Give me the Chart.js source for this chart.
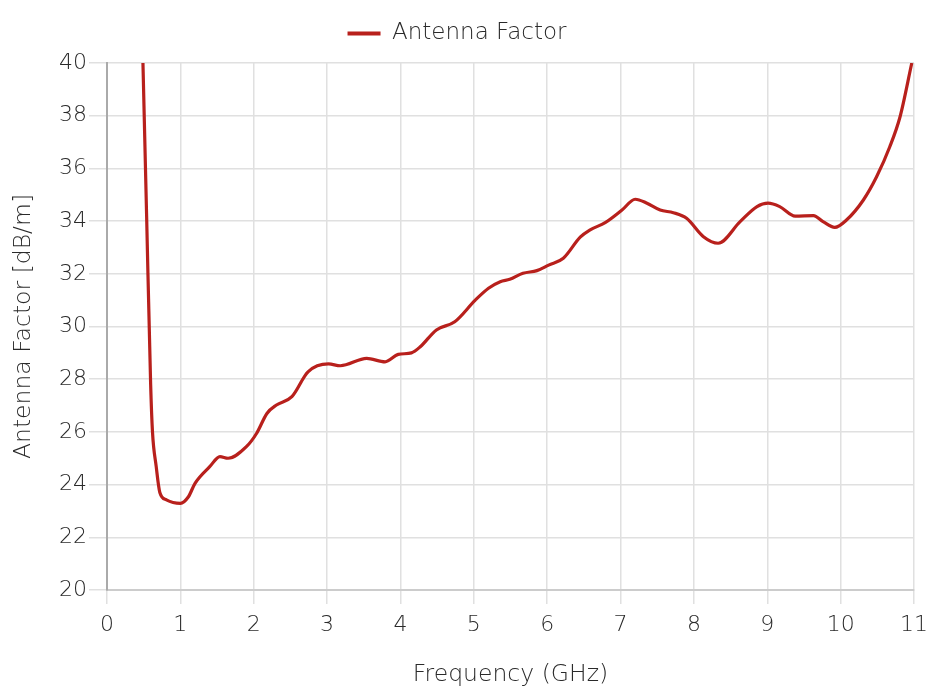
<!DOCTYPE html>
<html>
<head>
<meta charset="utf-8">
<script src="https://cdn.jsdelivr.net/npm/chart.js@4/dist/chart.umd.min.js"></script>
<style>
html,body{margin:0;padding:0;background:#fff;}
#wrap{width:930px;height:696px;}
</style>
</head>
<body>
<div id="wrap"><canvas id="c" width="930" height="696"></canvas></div>
<script>
const frequencyGHz = [0.49,0.54,0.595,0.62,0.67,0.72,0.81,1.0,1.11,1.2,1.4,1.54,1.65,1.9,2.04,2.18,2.31,2.52,2.74,3.02,3.18,3.54,3.79,3.97,4.15,4.27,4.49,4.74,5.02,5.2,5.36,5.49,5.67,5.86,6.02,6.22,6.45,6.58,6.79,7.02,7.2,7.36,7.54,7.72,7.9,8.13,8.33,8.63,8.86,9.01,9.17,9.38,9.63,9.76,9.92,10.08,10.31,10.49,10.67,10.81,10.97];
const antennaFactor = [40.0,34.2,27.8,26.0,24.7,23.7,23.42,23.29,23.54,24.05,24.68,25.06,25.0,25.44,25.95,26.7,27.02,27.34,28.28,28.58,28.51,28.79,28.66,28.94,29.0,29.23,29.87,30.18,31.0,31.45,31.7,31.79,32.02,32.12,32.33,32.59,33.39,33.66,33.94,34.42,34.83,34.68,34.42,34.32,34.11,33.41,33.16,33.98,34.55,34.68,34.55,34.19,34.21,33.98,33.76,34.04,34.8,35.68,36.82,37.96,40.0];
const xTicks = [0,1,2,3,4,5,6,7,8,9,10,11];
const yTicks = [20,22,24,26,28,30,32,34,36,38,40];
const seriesName = 'Antenna Factor';
const xTitle = 'Frequency (GHz)';
const yTitle = 'Antenna Factor [dB/m]';

const red = '#b8201c';
const fontFam = "'DejaVu Sans', sans-serif";
const textCol = '#2a2a2a';

const legendHeightPlugin = {
  id: 'legendHeight',
  beforeLayout(chart) {
    const lg = chart.legend;
    if (lg && !lg._patched) {
      const f = lg.fit.bind(lg);
      lg.fit = function () { f(); this.height = 63; };
      lg._patched = true;
    }
  }
};

new Chart(document.getElementById('c'), {
  type: 'line',
  data: {
    datasets: [{
      label: seriesName,
      data: frequencyGHz.map((f, i) => ({x: f, y: antennaFactor[i]})),
      borderColor: red,
      backgroundColor: red,
      borderWidth: 3.2,
      pointRadius: 0,
      cubicInterpolationMode: 'monotone',
      fill: false
    }]
  },
  plugins: [legendHeightPlugin],
  options: {
    responsive: false,
    animation: false,
    layout: {padding: {left: 0, right: 16, top: 0, bottom: 0}},
    plugins: {
      legend: {
        position: 'top',
        labels: {
          font: {family: fontFam, size: 23, weight: '200'},
          color: textCol,
          boxWidth: 33,
          boxHeight: 4,
          padding: 22,
          generateLabels: (chart) => chart.data.datasets.map((d, i) => ({
            text: d.label, fillStyle: red, strokeStyle: red, lineWidth: 0,
            datasetIndex: i, fontColor: textCol, hidden: false
          }))
        }
      },
      tooltip: {enabled: false}
    },
    scales: {
      x: {
        type: 'linear',
        min: 0, max: 11,
        afterBuildTicks: (s) => { s.ticks = xTicks.map(v => ({value: v})); },
        afterFit: (s) => { s.height = 106; s.paddingLeft = 0; s.paddingRight = 0; },
        grid: {color: '#e0e0e0', lineWidth: 1.5, tickLength: 14, drawTicks: true},
        border: {color: '#cccccc', width: 2},
        ticks: {font: {family: fontFam, size: 22, weight: '200'}, color: textCol, padding: 8, maxRotation: 0},
        title: {display: true, text: xTitle, font: {family: fontFam, size: 23.5, weight: '200'}, color: textCol, padding: {top: 0, bottom: 7}}
      },
      y: {
        type: 'linear',
        min: 20, max: 40,
        afterBuildTicks: (s) => { s.ticks = yTicks.map(v => ({value: v})); },
        afterFit: (s) => { s.width = 107; s.paddingTop = 0; s.paddingBottom = 0; },
        grid: {color: '#e0e0e0', lineWidth: 1.5, tickLength: 18},
        border: {color: '#aaaaaa', width: 2},
        ticks: {font: {family: fontFam, size: 22, weight: '200'}, color: textCol, padding: 2},
        title: {display: true, text: yTitle, font: {family: fontFam, size: 23.5, weight: '200'}, color: textCol, padding: {top: 10, bottom: 0}}
      }
    }
  }
});
</script>
</body>
</html>
